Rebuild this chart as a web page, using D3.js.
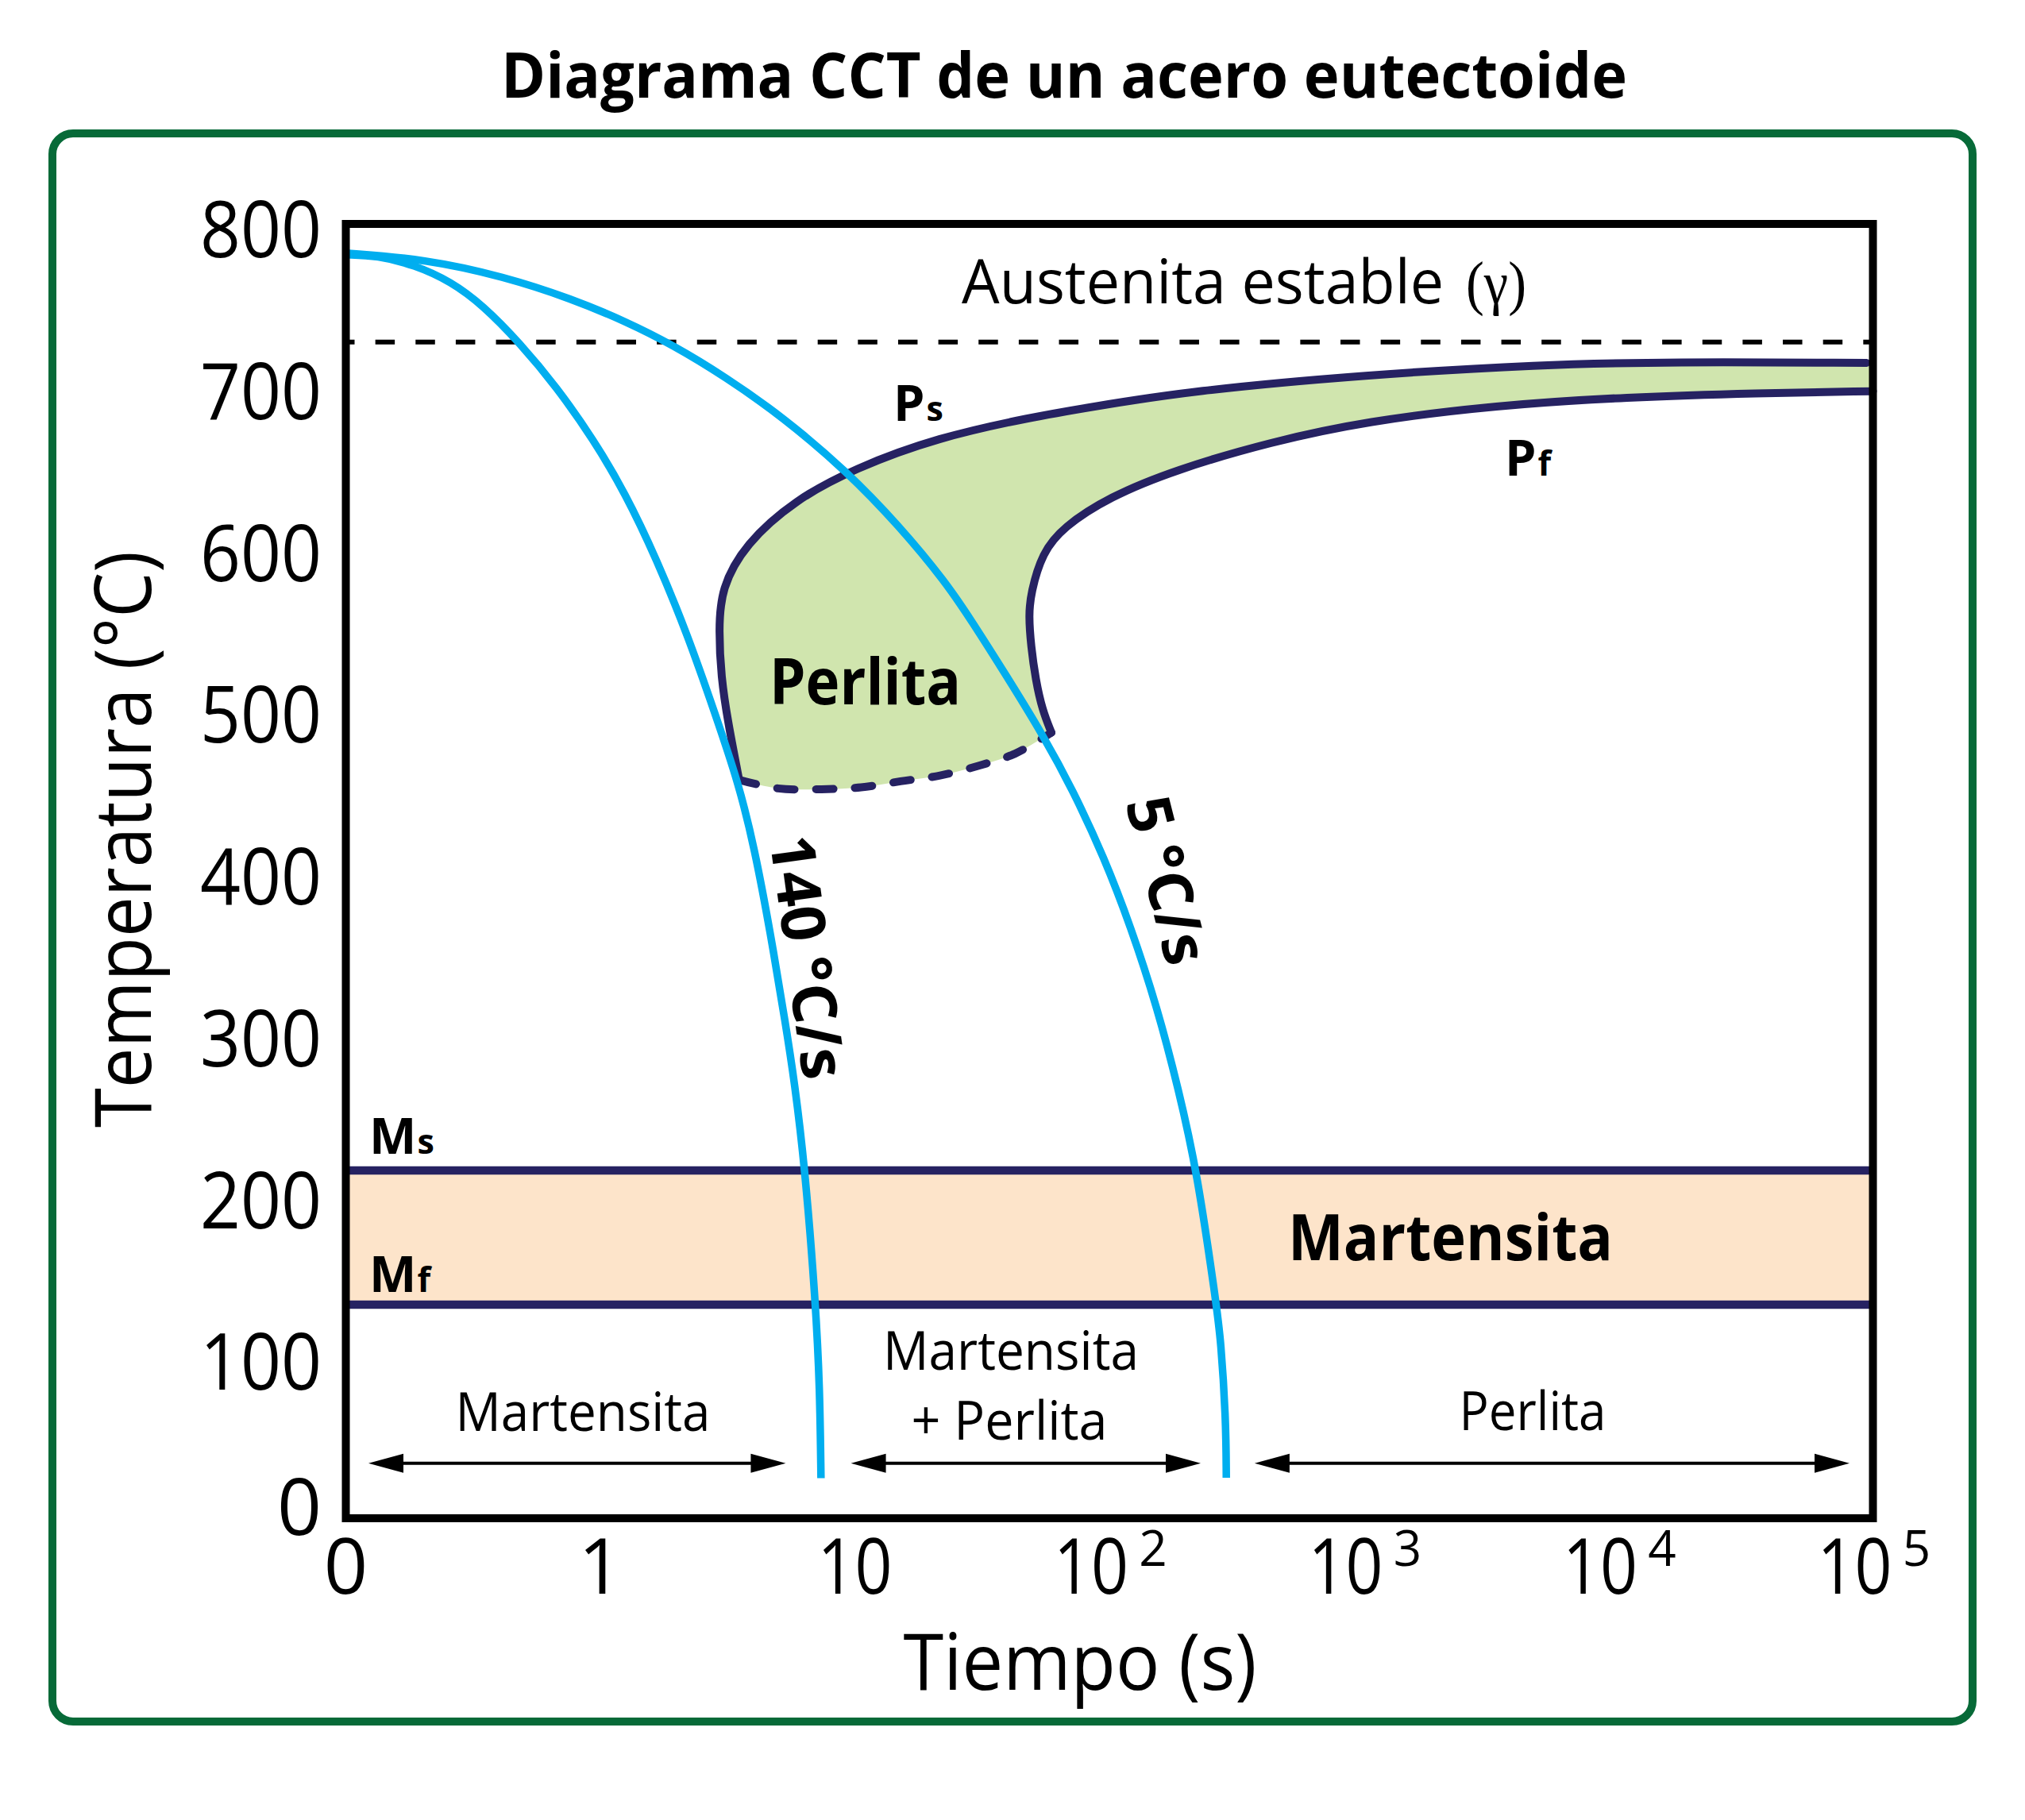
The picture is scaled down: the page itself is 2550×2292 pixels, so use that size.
<!DOCTYPE html>
<html>
<head>
<meta charset="utf-8">
<script src="https://cdn.jsdelivr.net/npm/d3@7"></script>
<style>
  body { margin: 0; background: #fff; }
  text { font-family: 'Open Sans', 'Noto Sans', sans-serif; }
</style>
</head>
<body>
<svg id="chart" width="2550" height="2292"></svg>
<script>
// ---------------- DATA ----------------
const timeTicks = [0.1, 1, 10, 100, 1000, 10000, 100000];
const timeTickBase = ["0", "1", "10", "10", "10", "10", "10"];
const timeTickExp  = ["", "", "", "2", "3", "4", "5"];
const tempTicks = [0, 100, 200, 300, 400, 500, 600, 700, 800];

const eutectoidTemp = 727;
const msTemp = 215;
const mfTemp = 132;

// cooling curves [time s, temperature °C]
const cooling140 = [
  [0.1, 781], [0.133, 780.4], [0.186, 774.7], [0.259, 764.4], [0.345, 749.8],
  [0.482, 726.5], [0.673, 699.2], [0.94, 666.7], [1.25, 633.8], [1.66, 593.2],
  [2.21, 545.3], [2.82, 497.5], [3.49, 454.4], [4.03, 414.4], [4.65, 362.6],
  [5.36, 304], [5.79, 269.8], [6.37, 216.3], [7.02, 132], [7.28, 80.5], [7.36, 24.8]
];
const cooling5 = [
  [0.1, 782], [0.204, 778.3], [0.418, 767.5], [0.776, 753.6], [1.25, 739.9],
  [1.92, 725.3], [3.09, 705.6], [5.22, 680.6], [9.31, 647], [14.9, 613.5],
  [22.7, 578.8], [28.8, 554.5], [39.2, 521.3], [55.3, 483.1], [71.6, 450.5],
  [95.5, 408.2], [121, 366.1], [154, 316.1], [187, 265], [221, 214.5],
  [263, 132.5], [274, 110.4], [287, 61.1], [288, 25]
];

// pearlite start (Ps) and finish (Pf)
const pearliteStart = [
  [3.51, 456.4], [3.17, 492.3], [2.98, 520.2], [2.92, 548.7], [2.98, 574.7],
  [3.71, 602.2], [5.79, 629.2], [9.93, 648.8], [21.1, 668], [50, 680.7],
  [80.7, 686.3], [210, 696.9], [1017, 706.7], [4920, 713.1], [16030, 714.8], [94400, 714.1]
];
const pearliteFinish = [
  [59.2, 485.6], [54.5, 499.6], [51.3, 518.4], [49.2, 539.1], [48.2, 558],
  [49.1, 571.8], [54.5, 596.8], [65.7, 612.5], [99.6, 631.2], [182, 648.1],
  [431, 665.3], [1017, 678], [3317, 687.9], [10820, 693], [35290, 695.5], [100000, 696.6]
];
const pearliteBottom = [
  [3.51, 456.4], [4.99, 451.1], [7.40, 450.6], [10.58, 451.8], [15.12, 455.5],
  [21.62, 459.1], [30.9, 465.3], [42.6, 472.6], [59.2, 485.6]
];

// resulting microstructure zones at room temperature
const zoneFrom = [0.1227, 9.65, 372];
const zoneTo   = [5.35, 228.5, 80900];
const zoneTemp = 34;

// ---------------- LAYOUT ----------------
const svg = d3.select("#chart");
const X0 = 435.5, X1 = 2358.5, Y0 = 1912, Y1 = 282;

const x = d3.scaleLog().domain([0.1, 1e5]).range([X0, X1]);
const y = d3.scaleLinear().domain([0, 800]).range([Y0, Y1]);

const C = {
  cyan: "#00AEEF", navy: "#262262", green: "#D0E5AE",
  peach: "#FDE4CA", frame: "#076A38"
};

// outer rounded frame
svg.append("rect")
  .attr("x", 66).attr("y", 168).attr("width", 2418).attr("height", 2000)
  .attr("rx", 26).attr("ry", 26)
  .attr("fill", "none").attr("stroke", C.frame).attr("stroke-width", 10);

const plot = svg.append("g");

// martensite band
plot.append("rect")
  .attr("x", X0).attr("width", X1 - X0)
  .attr("y", y(msTemp)).attr("height", y(mfTemp) - y(msTemp))
  .attr("fill", C.peach);

const smooth = d3.line()
  .x(d => x(d[0])).y(d => y(d[1]))
  .curve(d3.curveBasis);
const through = d3.line()
  .x(d => x(d[0])).y(d => y(d[1]))
  .curve(d3.curveCatmullRom.alpha(0.5));

// pearlite fill
const psD = smooth(pearliteStart);
const pfD = smooth(pearliteFinish);
const lastPs = pearliteStart[pearliteStart.length - 1];
const fillD = psD +
  `L${x(1e5)},${y(lastPs[1])}` +
  smooth(pearliteFinish.slice().reverse()).replace(/^M/, "L") +
  through(pearliteBottom.slice().reverse()).replace(/^M/, "L") + "Z";
plot.append("path").attr("d", fillD).attr("fill", C.green);

// Ms / Mf lines
[msTemp, mfTemp].forEach(T => {
  plot.append("line")
    .attr("x1", X0).attr("x2", X1)
    .attr("y1", y(T)).attr("y2", y(T))
    .attr("stroke", C.navy).attr("stroke-width", 10.5);
});

// eutectoid dashed line
plot.append("line")
  .attr("x1", X0).attr("x2", X1)
  .attr("y1", y(eutectoidTemp)).attr("y2", y(eutectoidTemp))
  .attr("stroke", "#000").attr("stroke-width", 6)
  .attr("stroke-dasharray", "24.5,26.14").attr("stroke-dashoffset", 13.5);

// Ps, Pf, dashed bottom
plot.append("path").attr("d", psD)
  .attr("fill", "none").attr("stroke", C.navy).attr("stroke-width", 10)
  .attr("stroke-linecap", "round");
plot.append("path").attr("d", pfD)
  .attr("fill", "none").attr("stroke", C.navy).attr("stroke-width", 10)
  .attr("stroke-linecap", "round");
plot.append("path").attr("d", through(pearliteBottom))
  .attr("fill", "none").attr("stroke", C.navy).attr("stroke-width", 10)
  .attr("stroke-linecap", "round").attr("stroke-dasharray", "22,27");

// cooling curves
[cooling5, cooling140].forEach(c => {
  plot.append("path").attr("d", smooth(c))
    .attr("fill", "none").attr("stroke", C.cyan).attr("stroke-width", 9.5);
});

// zone arrows
zoneFrom.forEach((f, i) => {
  const xa = x(f), xb = x(zoneTo[i]), ya = y(zoneTemp);
  const L = 44, H = 12;
  plot.append("line").attr("x1", xa + L - 2).attr("x2", xb - L + 2)
    .attr("y1", ya).attr("y2", ya).attr("stroke", "#000").attr("stroke-width", 4);
  plot.append("path").attr("d", `M${xa},${ya}L${xa + L},${ya - H}L${xa + L},${ya + H}Z`).attr("fill", "#000");
  plot.append("path").attr("d", `M${xb},${ya}L${xb - L},${ya - H}L${xb - L},${ya + H}Z`).attr("fill", "#000");
});

// plot box
svg.append("rect")
  .attr("x", X0).attr("y", Y1).attr("width", X1 - X0).attr("height", Y0 - Y1)
  .attr("fill", "none").attr("stroke", "#000").attr("stroke-width", 10);

// ---------------- TEXT ----------------
function label(o) {
  const t = svg.append("text")
    .attr("x", o.x).attr("y", o.y)
    .attr("font-size", o.size)
    .attr("font-weight", o.weight || 400)
    .attr("text-anchor", o.anchor || "start")
    .attr("fill", "#000");
  if (o.family) t.style("font-family", o.family);
  if (o.style) t.style("font-style", o.style);
  if (o.rotate != null) t.attr("transform", `rotate(${o.rotate},${o.x},${o.y})`);
  (o.parts || [{ text: o.text }]).forEach(p => {
    const s = t.append("tspan").text(p.text);
    if (p.size) s.attr("font-size", p.size);
    if (p.family) s.style("font-family", p.family);
    if (p.style) s.style("font-style", p.style);
    if (p.weight) s.attr("font-weight", p.weight);
    if (p.dx != null) s.attr("dx", p.dx);
    if (p.dy != null) s.attr("dy", p.dy);
  });
  if (o.width) t.attr("textLength", o.width).attr("lengthAdjust", "spacingAndGlyphs");
  return t;
}

// title
label({ x: 1340, y: 123, size: 79, weight: 700, anchor: "middle", width: 1418,
        text: "Diagrama CCT de un acero eutectoide" });

// y ticks
tempTicks.forEach(v => {
  label({ x: 405, y: y(v) + (v === 0 ? 21 : 42), size: 98, anchor: "end",
          width: String(v).length === 3 ? 153 : null, text: String(v) });
});
// x ticks (base and exponent as separate texts)
timeTicks.forEach((t, i) => {
  const exp = timeTickExp[i];
  const base = timeTickBase[i];
  if (exp) {
    label({ x: x(t) - 23, y: 2007, size: 97, anchor: "middle", width: 94, text: base });
    label({ x: x(t) + 55, y: 1972, size: 62, anchor: "middle", text: exp });
  } else {
    label({ x: x(t), y: 2007, size: 97, anchor: "middle",
            width: base.length === 2 ? 94 : null, text: base });
  }
});

// axis titles
label({ x: 1360, y: 2128, size: 98, anchor: "middle", width: 445, text: "Tiempo (s)" });
label({ x: 190, y: 1057, size: 98, anchor: "middle", width: 726, rotate: -90,
        text: "Temperatura (°C)" });

// region texts
const serif = "'Liberation Serif', 'DejaVu Serif', serif";
label({ x: 1211, y: 382, size: 77, width: 607, text: "Austenita estable" });
label({ x: 1846, y: 382, size: 77, width: 76, family: serif, text: "(γ)" });
label({ x: 969, y: 887, size: 80, weight: 700, width: 241, text: "Perlita" });
label({ x: 1622, y: 1587, size: 80, weight: 700, width: 409, text: "Martensita" });

label({ x: 1125, y: 530, size: 63, weight: 700, parts: [{ text: "P" }, { text: "s", size: 43, dx: 2 }] });
label({ x: 1895, y: 599, size: 63, weight: 700, parts: [{ text: "P" }, { text: "f", size: 43, dx: 2 }] });
label({ x: 465, y: 1453, size: 63, weight: 700, parts: [{ text: "M" }, { text: "s", size: 43, dx: 1 }] });
label({ x: 465, y: 1627, size: 63, weight: 700, parts: [{ text: "M" }, { text: "f", size: 43, dx: 1 }] });

label({ x: 969, y: 1056, size: 77, weight: 700, width: 309, rotate: 82.1, text: "140 °C/s" });
label({ x: 1417, y: 1011, size: 77, weight: 700, width: 215, rotate: 75.8, text: "5 °C/s" });

label({ x: 734, y: 1802, size: 67, anchor: "middle", width: 321, text: "Martensita" });
label({ x: 1273, y: 1725, size: 67, anchor: "middle", width: 322, text: "Martensita" });
label({ x: 1271, y: 1813, size: 67, anchor: "middle", width: 247, text: "+ Perlita" });
label({ x: 1930, y: 1801, size: 67, anchor: "middle", width: 185, text: "Perlita" });
</script>
</body>
</html>
